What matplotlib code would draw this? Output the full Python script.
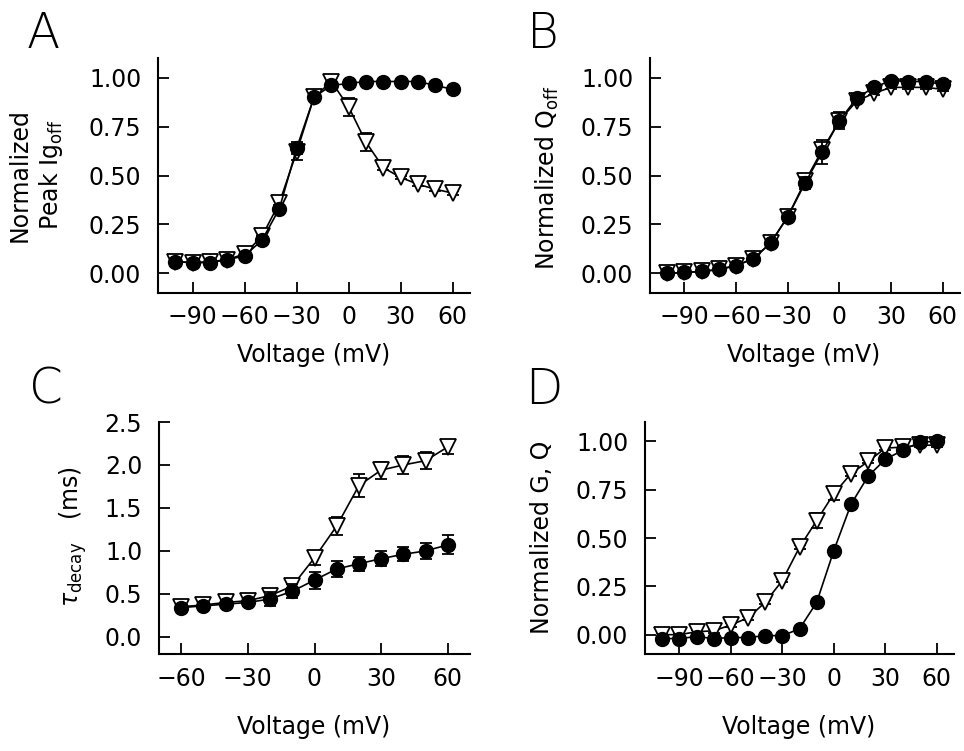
"""
Gating current / charge movement summary, four panels
"""

import matplotlib.pyplot as plt

# ---- data ----
volt = [-100, -90, -80, -70, -60, -50, -40, -30, -20, -10, 0, 10, 20, 30, 40, 50, 60]
volt_c = [-60, -50, -40, -30, -20, -10, 0, 10, 20, 30, 40, 50, 60]

# A: normalized peak Ig_off
a_circ = [0.06, 0.055, 0.055, 0.07, 0.09, 0.17, 0.33, 0.64, 0.90, 0.96, 0.97, 0.98, 0.98, 0.98, 0.98, 0.96, 0.94]
a_circ_err = [0.01, 0.01, 0.01, 0.01, 0.01, 0.02, 0.02, 0.03, 0.01, 0.01, 0.01, 0.01, 0.01, 0.01, 0.01, 0.01, 0.01]
a_tri = [0.06, 0.055, 0.06, 0.07, 0.10, 0.19, 0.36, 0.62, 0.90, 0.98, 0.85, 0.67, 0.54, 0.49, 0.455, 0.43, 0.41]
a_tri_err = [0.01, 0.01, 0.01, 0.01, 0.01, 0.02, 0.03, 0.04, 0.01, 0.02, 0.045, 0.045, 0.01, 0.01, 0.01, 0.01, 0.01]

# B: normalized Q_off
b_circ = [0.0, 0.005, 0.01, 0.02, 0.04, 0.075, 0.155, 0.29, 0.46, 0.62, 0.78, 0.895, 0.95, 0.985, 0.98, 0.98, 0.965]
b_circ_err = [0.01, 0.01, 0.01, 0.01, 0.01, 0.01, 0.01, 0.01, 0.03, 0.06, 0.045, 0.02, 0.01, 0.01, 0.01, 0.01, 0.01]
b_tri = [0.0, 0.005, 0.01, 0.02, 0.04, 0.075, 0.155, 0.29, 0.47, 0.63, 0.78, 0.88, 0.92, 0.95, 0.95, 0.95, 0.94]
b_tri_err = [0.01, 0.01, 0.01, 0.01, 0.01, 0.01, 0.01, 0.01, 0.02, 0.03, 0.03, 0.01, 0.01, 0.01, 0.01, 0.01, 0.01]

# C: tau decay (ms)
c_circ = [0.34, 0.36, 0.38, 0.40, 0.44, 0.53, 0.66, 0.79, 0.85, 0.91, 0.96, 1.0, 1.07]
c_circ_err = [0.03, 0.03, 0.03, 0.04, 0.08, 0.08, 0.10, 0.09, 0.08, 0.09, 0.08, 0.095, 0.11]
c_tri = [0.35, 0.37, 0.40, 0.42, 0.48, 0.59, 0.92, 1.29, 1.76, 1.94, 2.0, 2.05, 2.21]
c_tri_err = [0.02, 0.02, 0.03, 0.03, 0.03, 0.04, 0.08, 0.10, 0.13, 0.10, 0.10, 0.10, 0.08]

# D: normalized G, Q
d_circ = [-0.02, -0.02, -0.01, -0.02, -0.015, -0.015, -0.005, -0.005, 0.03, 0.167, 0.435, 0.674, 0.82, 0.907, 0.953, 0.996, 1.0]
d_circ_err = [0.01] * 17
d_tri = [0.0, 0.0, 0.015, 0.02, 0.05, 0.087, 0.167, 0.28, 0.452, 0.59, 0.729, 0.833, 0.896, 0.965, 0.97, 0.98, 0.98]
d_tri_err = [0.01, 0.01, 0.01, 0.01, 0.01, 0.01, 0.01, 0.01, 0.01, 0.04, 0.035, 0.01, 0.01, 0.01, 0.01, 0.01, 0.01]

W, H = 964, 751
FS = 17


def px(x, y):
    return x / W, 1 - y / H


def axes_box(left, right, top, bottom):
    return [left / W, 1 - bottom / H, (right - left) / W, (bottom - top) / H]


def draw(ax, x, circ, circ_err, tri, tri_err):
    ax.errorbar(x, tri, yerr=tri_err, fmt="none", ecolor="black", elinewidth=1.3, capsize=4, capthick=1.3, zorder=2)
    ax.plot(x, tri, "-", color="black", lw=1.2, marker="v", ms=11, mfc="white", mec="black", mew=1.3, zorder=3)
    ax.errorbar(x, circ, yerr=circ_err, fmt="none", ecolor="black", elinewidth=1.3, capsize=4, capthick=1.3, zorder=4)
    ax.plot(x, circ, "-", color="black", lw=1.2, marker="o", ms=10, mfc="black", mec="black", zorder=5)


def style(ax, xlim, ylim, xticks, yticks, yfmt):
    ax.set_xlim(xlim)
    ax.set_ylim(ylim)
    ax.set_xticks(xticks)
    ax.set_xticklabels(["\u2212" + str(-t) if t < 0 else str(t) for t in xticks])
    ax.set_yticks(yticks)
    ax.set_yticklabels([yfmt.format(t) for t in yticks])
    for s in ["top", "right"]:
        ax.spines[s].set_visible(False)
    for s in ["left", "bottom"]:
        ax.spines[s].set_linewidth(1.5)
    ax.tick_params(axis="both", direction="in", length=8, width=1.3, labelsize=FS)
    ax.tick_params(axis="x", pad=9)
    ax.tick_params(axis="y", pad=12)


fig = plt.figure(figsize=(W / 100, H / 100), dpi=100)

axA = fig.add_axes(axes_box(158, 470, 58, 293))
draw(axA, volt, a_circ, a_circ_err, a_tri, a_tri_err)
style(axA, (-110, 70), (-0.1, 1.1), [-90, -60, -30, 0, 30, 60], [0, 0.25, 0.5, 0.75, 1.0], "{:.2f}")

axB = fig.add_axes(axes_box(650, 960, 58, 293))
draw(axB, volt, b_circ, b_circ_err, b_tri, b_tri_err)
style(axB, (-110, 70), (-0.1, 1.1), [-90, -60, -30, 0, 30, 60], [0, 0.25, 0.5, 0.75, 1.0], "{:.2f}")

axC = fig.add_axes(axes_box(159, 470, 422, 654))
draw(axC, volt_c, c_circ, c_circ_err, c_tri, c_tri_err)
style(axC, (-70, 70), (-0.2, 2.5), [-60, -30, 0, 30, 60], [0, 0.5, 1.0, 1.5, 2.0, 2.5], "{:.1f}")

axD = fig.add_axes(axes_box(645, 954, 422, 654))
draw(axD, volt, d_circ, d_circ_err, d_tri, d_tri_err)
style(axD, (-110, 70), (-0.1, 1.1), [-90, -60, -30, 0, 30, 60], [0, 0.25, 0.5, 0.75, 1.0], "{:.2f}")

# axis labels
for x, y in [(314, 355), (804, 355), (314, 727), (799, 727)]:
    fig.text(*px(x, y), "Voltage (mV)", fontsize=FS, ha="center", va="center")

fig.text(*px(36, 175), "Normalized\nPeak Ig$_{\\mathrm{off}}$", fontsize=FS, rotation=90,
         ha="center", va="center", linespacing=1.25)
fig.text(*px(547, 178), "Normalized Q$_{\\mathrm{off}}$", fontsize=FS, rotation=90, ha="center", va="center")
fig.text(*px(73, 537), "$\\tau_{\\mathrm{decay}}$   (ms)", fontsize=FS, rotation=90, ha="center", va="center")
fig.text(*px(542, 537), "Normalized G, Q", fontsize=FS, rotation=90, ha="center", va="center")

# panel letters
for lab, x, y in [("A", 43, 48), ("B", 543, 48), ("C", 46, 404), ("D", 544, 404)]:
    fig.text(*px(x, y), lab, fontsize=35, ha="center", va="baseline", fontweight="light")

plt.savefig("out.png", dpi=100)
